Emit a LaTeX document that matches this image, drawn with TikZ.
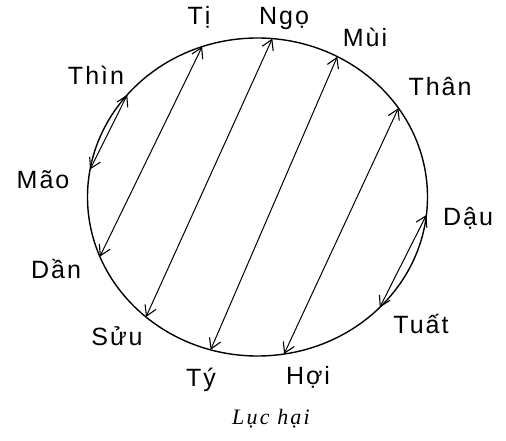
\documentclass[tikz,border=0pt]{standalone}
\usepackage{fontspec}
\setmainfont{Liberation Sans}
\newfontfamily\labfont{Liberation Sans}[LetterSpace=8]
\newfontfamily\capfont{Liberation Serif}[LetterSpace=10]
\usetikzlibrary{arrows.meta}
\begin{document}
\begin{tikzpicture}[x=1pt,y=-1pt,
  lab/.style={inner sep=0pt,anchor=base,font=\labfont\fontsize{25}{28}\selectfont},
  captext/.style={inner sep=0pt,anchor=base,font=\capfont\itshape\fontsize{22}{26}\selectfont},
  rim/.style={line width=1.4pt},
  pair/.style={line width=1pt,{Straight Barb[length=10pt,width=12pt,line width=1.1pt]}-{Straight Barb[length=10pt,width=12pt,line width=1.1pt]}}]
\useasboundingbox (0,0) rectangle (506,441);
\coordinate (c) at (257.5,197);
\draw[rim] (c) ellipse [x radius=170, y radius=159];
% points on the rim
\foreach \n/\t in {ti/109,thin/140,mao/170,ngo/85,mui/62,than/34,dau/-6.5,tuat/-44,hoi/-81,ty/-106,suu/-131,dan/-158}
  \coordinate (p\n) at ({257.5+170*cos(\t)},{197-159*sin(\t)});
% connectors
\draw[pair] (pthin) -- (pmao);
\draw[pair] (pti) -- (pdan);
\draw[pair] (pngo) -- (psuu);
\draw[pair] (pmui) -- (pty);
\draw[pair] (pthan) -- (phoi);
\draw[pair] (pdau) -- (ptuat);
% labels
\node[lab] (lti) at (199,25) {Tị};
\node[lab] (lngo) at (284,25) {Ngọ};
\node[lab] (lmui) at (365,47) {Mùi};
\node[lab] (lthan) at (440,96) {Thân};
\node[lab] (ldau) at (468,225) {Dậu};
\node[lab] (ltuat) at (421,333) {Tuất};
\node[lab] (lhoi) at (308,384) {Hợi};
\node[lab] (lty) at (201,386) {Tý};
\node[lab] (lsuu) at (117,345) {Sửu};
\node[lab] (ldan) at (56,278) {Dần};
\node[lab] (lmao) at (43,188) {Mão};
\node[lab] (lthin) at (96,85) {Thìn};
\node[captext] (caption) at (271,424) {Lục hại};
\end{tikzpicture}
\end{document}
